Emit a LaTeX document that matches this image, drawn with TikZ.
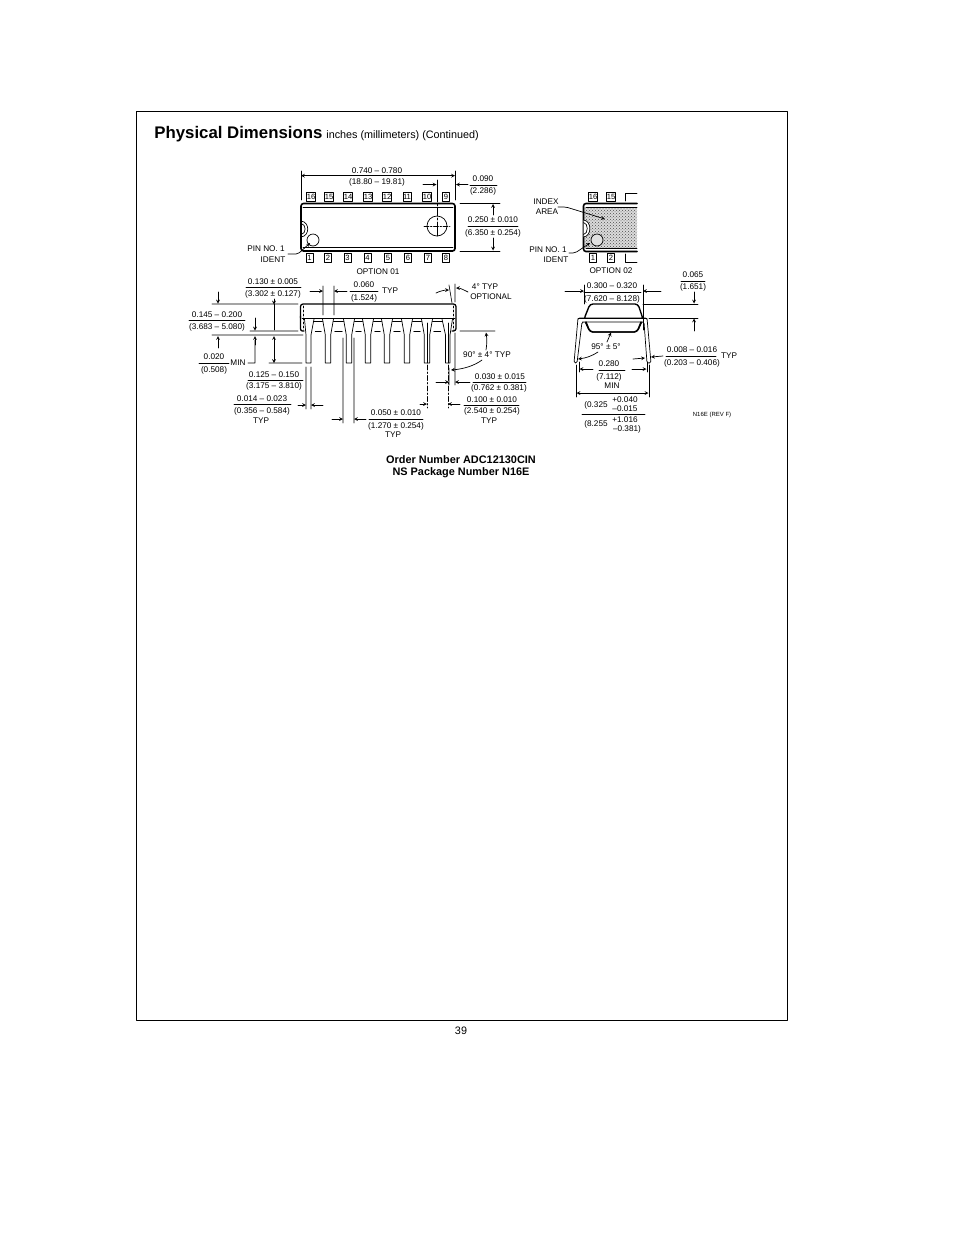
\documentclass[tikz,border=0pt]{standalone}
\usepackage{fontspec}
\setmainfont{Liberation Sans}
\usetikzlibrary{patterns}
\begin{document}
\begin{tikzpicture}[x=1pt,y=-1pt,line join=round,line cap=round,>=stealth,line width=.7pt]
	\tikzset{
		lab/.style={inner sep=0pt,font=\fontsize{8.2}{9}\selectfont},
		pinbox/.style={draw,minimum width=7pt,minimum height=8.5pt,inner sep=0pt,font=\fontsize{7.6}{8}\selectfont},
		thickline/.style={line width=1.6pt},
		dimline/.style={line width=.65pt}
	}
	\useasboundingbox (0,0) rectangle (954,1235);
	%Frame
	\draw[line width=.8pt] (136,111) rectangle (787,1020);
	\node[anchor=base west,inner sep=0pt,font=\fontsize{16.8}{18}\selectfont\bfseries] (title) at (154,138) {Physical Dimensions};
	\node[anchor=base west,inner sep=0pt,font=\fontsize{10.8}{12}\selectfont] (subtitle) at (326,138) {inches (millimeters) (Continued)};
	\node[inner sep=0pt,font=\fontsize{10.8}{12}\selectfont] (pagenum) at (461,1031) {39};
	\node[inner sep=0pt,font=\fontsize{10.9}{12}\selectfont\bfseries] (order) at (461,460) {Order Number ADC12130CIN};
	\node[inner sep=0pt,font=\fontsize{10.9}{12}\selectfont\bfseries] (package) at (461,473) {NS Package Number N16E};
	%Option 01
	\draw[thickline,rounded corners=2.5pt] (301,203.5) rectangle (455,251);
	\draw (303,207)--(453,207) (303,247)--(453,247);
	\draw (301,221) .. controls (310,222) and (310,236) .. (301,237);
	\draw (301,223.5) .. controls (306.5,224) and (306.5,234) .. (301,234.5);
	\draw (313,240) circle (6pt);
	\draw (437,226) circle (10pt);
	\draw[dash pattern=on 5pt off 1.5pt on 1.5pt off 1.5pt] (424,226)--(450,226);
	\draw[dash pattern=on 22pt off 2pt on 2pt off 2pt on 8pt off 2pt on 2pt off 2pt] (437,180)--(437,236);
	\foreach \nom/\x/\txt in {a/311/16,b/329/15,c/348/14,d/368/13,e/387/12,f/407/11,g/427/10,h/446/9}
		\node[pinbox] (top\nom) at (\x,197) {\txt};
	\foreach \nom/\x/\txt in {a/309.5/1,b/328/2,c/347.5/3,d/367.5/4,e/388/5,f/408/6,g/428/7,h/446/8}
		\node[pinbox] (bot\nom) at (\x,258) {\txt};
	%Option 02
	\fill[black!14] (584,207) rectangle (637,248);
	\fill[pattern=crosshatch dots,pattern color=black!70] (584,207) rectangle (637,248);
	\draw[thickline,rounded corners=2.5pt] (637,203.5)--(583.5,203.5)--(583.5,251.5)--(637,251.5);
	\draw (586,207)--(637,207) (586,248)--(637,248);
	\draw[fill=white] (583.5,220) .. controls (592,221) and (592,236) .. (583.5,237);
	\draw (583.5,222.5) .. controls (588.5,223) and (588.5,234) .. (583.5,234.5);
	\draw[fill=black!12] (597,240) circle (6pt);
	\node[pinbox] (opta) at (593,197) {16};
	\node[pinbox] (optb) at (611,197) {15};
	\node[pinbox] (optc) at (593,258) {1};
	\node[pinbox] (optd) at (611,258) {2};
	\draw (625,201)--(625,193)--(637,193) (625,254)--(625,262)--(637,262);
	%Pin 1 and index
	\draw[->,rounded corners=2pt] (288,254)--(298,254)--(310,243);
	\draw[->,rounded corners=2pt] (569,253)--(575,253)--(590,243);
	\draw[->,rounded corners=2pt] (558,207)--(566,207)--(605,219);
	\foreach \nom/\x/\y/\txt in {
		pina/266/249/{PIN NO. 1},pinb/273/260/IDENT,optone/378/272/{OPTION 01},
		pinc/548/250/{PIN NO. 1},pind/556/260/IDENT,opttwo/611/271/{OPTION 02},
		index/546/202/INDEX,area/547/212/AREA,
		lena/377/170.5/{0.740 – 0.780},lenb/377/182/{(18.80 – 19.81)},
		offa/483/178.5/0.090,offb/483/191/{(2.286)},
		wida/493/220/{0.250 ± 0.010},widb/493/233/{(6.350 ± 0.254)},
		hta/273/281.5/{0.130 ± 0.005},htb/273/294/{(3.302 ± 0.127)},
		gapa/364/285/0.060,gapb/364/298/{(1.524)},gapc/390/291/TYP,
		tapa/485/287/{4° TYP},tapb/491/297/OPTIONAL,
		tota/217/314.5/{0.145 – 0.200},totb/217/327/{(3.683 – 5.080)},
		mina/214/357/0.020,minb/214/370/{(0.508)},minc/238/363/MIN,
		leada/274/374.5/{0.125 – 0.150},leadb/274/386/{(3.175 – 3.810)},
		pwa/262/398.5/{0.014 – 0.023},pwb/262/411/{(0.356 – 0.584)},pwc/261/421/TYP,
		spa/396/413/{0.050 ± 0.010},spb/396/426/{(1.270 ± 0.254)},spc/393/435/TYP,
		anga/487/355/{90° ± 4° TYP},
		sha/500/376.5/{0.030 ± 0.015},shb/499/388/{(0.762 ± 0.381)},
		pta/492/399.5/{0.100 ± 0.010},ptb/492/411/{(2.540 ± 0.254)},ptc/489/421/TYP,
		rowa/612/286/{0.300 – 0.320},rowb/612/299/{(7.620 – 8.128)},
		stna/693/275/0.065,stnb/693/287/{(1.651)},
		angb/606/347/{95° ± 5°},
		inna/609/364/0.280,innb/609/377/{(7.112)},innc/612/386/MIN,
		thka/692/350/{0.008 – 0.016},thkb/692/363/{(0.203 – 0.406)},thkc/729/356/TYP,
		outa/596/405/{(0.325},outb/625/400/{+0.040},outc/625/408.5/{–0.015},
		outd/596/424/{(8.255},oute/625/420/{+1.016},outf/627/429/{–0.381)}
	}
		\node[lab] (\nom) at (\x,\y) {\txt};
	\node[inner sep=0pt,font=\fontsize{6}{7}\selectfont] (rev) at (712,415) {N16E (REV F)};
	%Top dimensions
	\draw[dimline]
	(301,171)--(301,200) (455,171)--(455,200)
	(460,203.5)--(500,203.5) (460,251)--(500,251)
	(470,185)--(497,185) (468,226)--(518,226);
	\draw[->] (350,175.7)--(301,175.7);
	\draw[->] (348,175.7)--(455,175.7);
	\draw[->] (468,184.5)--(456,184.5);
	\draw[->] (423,184.5)--(436.5,184.5);
	\draw[->] (493,215)--(493,204);
	\draw[->] (493,238)--(493,250.5);
	%Side view body
	\draw[line width=1.3pt,rounded corners=2.5pt] (300.5,318)--(300.5,304)--(456,304)--(456,331)--(452,331);
	\draw[line width=1.3pt,rounded corners=2pt] (300.5,316)--(300.5,331)--(304,331);
	\draw (302,318.5)--(455,318.5);
	\draw[dash pattern=on 2pt off 2pt] (303.5,306)--(303.5,330) (453.5,306)--(453.5,330);
	%Side view pins
	\foreach \px in {328,349,368,387,407,427}{
		\draw[fill=white] (\px-5.5,319)--(\px-2.7,335)--(\px-2.7,363)--(\px+2.7,363)--(\px+2.7,335)--(\px+5.5,319);
	}
	\draw[fill=white] (304.5,319)--(306,335)--(306,363)--(311,363)--(311,335)--(314,319);
	\draw[fill=white] (442,319)--(445.5,335)--(445.5,363)--(450,363)--(450,335)--(452.5,319);
	\foreach \ax/\bx in {314/322.5,333.5/343.5,354.5/362.5,373.5/381.5,392.5/401.5,412.5/421.5,432.5/442}{
		\draw[line width=.9pt] (\ax,321)--(\bx,321);
		\draw (\ax+1.2,331)--(\bx-1.2,331);
	}
	%Side view dimensions
	\draw[dimline]
	(212,304)--(298,304) (250,331)--(298,331) (212,335)--(303,335) (269,363)--(302,363)
	(323,286)--(323,315) (334,286)--(334,315)
	(306,367)--(306,409) (311,367)--(311,409)
	(343,338)--(343,423) (354,338)--(354,423)
	(255,340)--(255,363)--(248,363)
	(455,284)--(455,302) (449,285)--(452,303)
	(460,331)--(495,331)
	(449,368)--(449,385) (455,333)--(455,385);
	\draw[dimline] (427,323)--(427,363);
	\draw[dimline] (448,323)--(448,363);
	\draw[dimline,dash pattern=on 5pt off 2pt on 1.5pt off 2pt] (427,365)--(427,408) (448,365)--(448,408);
	\draw[dimline] (246,287.5)--(301,287.5) (350,291)--(378,291) (189,320.5)--(245,320.5) (199,363.5)--(229,363.5)
	(248,380)--(303,380) (234,404.5)--(291,404.5) (369,419)--(423,419) (473,382)--(526,382) (464,405)--(519,405);
	\draw[->] (218,292)--(218,303.5);
	\draw[->] (218,348)--(218,336);
	\draw[->] (255,318)--(255,330.5);
	\draw[->] (255,345)--(255,336);
	\draw[->] (274,299)--(274,304.5);
	\draw (274,304)--(274,330);
	\draw[<->] (274,336)--(274,363);
	\draw[->] (310,291)--(323,291);
	\draw[->] (347,291)--(334,291);
	\draw[->] (298,405)--(306,405);
	\draw[->] (323,405)--(311,405);
	\draw[->] (332,419)--(343,419);
	\draw[->] (366,419)--(354,419);
	\draw[->] (420,404)--(427,404);
	\draw[->] (460,404)--(448,404);
	\draw[->] (436,382)--(449,382);
	\draw[->] (470,382)--(455,382);
	\draw[->] (436,293) .. controls (440,291) and (445,290) .. (449,290);
	\draw[->] (468,292) .. controls (464,290) and (460,288) .. (456,288);
	\draw[->] (486,350) .. controls (487,344) and (487,339) .. (486,332.5);
	\draw[->] (482,360) .. controls (474,366) and (463,369) .. (451,370);
	%End view
	\draw[line width=1.4pt,rounded corners=3pt] (590,304)--(638,304)--(643,319)--(637,332)--(590,332)--(584,319)--cycle;
	\draw[fill=white,rounded corners=1.5pt] (577,363)--(582,322)--(584,322)--(642,322)--(644,322)--(647,363)--(651,363)--(647,318)--(578,318)--(574,363)--cycle;
	\draw[line width=1.4pt,rounded corners=3pt] (586,322)--(590,332)--(637,332)--(641,322);
	\draw (578,318)--(647,318);
	%End view dimensions
	\draw[dimline]
	(584,285)--(584,304) (643,285)--(643,330)
	(643,304)--(698,304) (649,318)--(698,318)
	(579,362)--(579,372) (647,362)--(647,372)
	(576,365)--(576,397) (649,365)--(649,397);
	\draw[dimline] (584,292.5)--(641,292.5) (681,281)--(705,281) (599,370.5)--(625,370.5) (666,356.5)--(716,356.5)
	(582,414)--(645,414);
	\draw[->] (565,291)--(584,291);
	\draw[->] (661,291)--(643,291);
	\draw[->] (694,292)--(694,303.5);
	\draw[->] (694,331)--(694,318.5);
	\draw[->] (593,369)--(579.5,369);
	\draw[->] (632,369)--(646.5,369);
	\draw[<->] (576.5,393)--(648.5,393);
	\draw[->] (663,356)--(651,357);
	\draw[->] (633,359)--(645,358);
	\draw[->] (607,342)--(611,332.5);
	\draw[->] (598,352) .. controls (592,356) and (586,358) .. (578,359);
\end{tikzpicture}
\end{document}
